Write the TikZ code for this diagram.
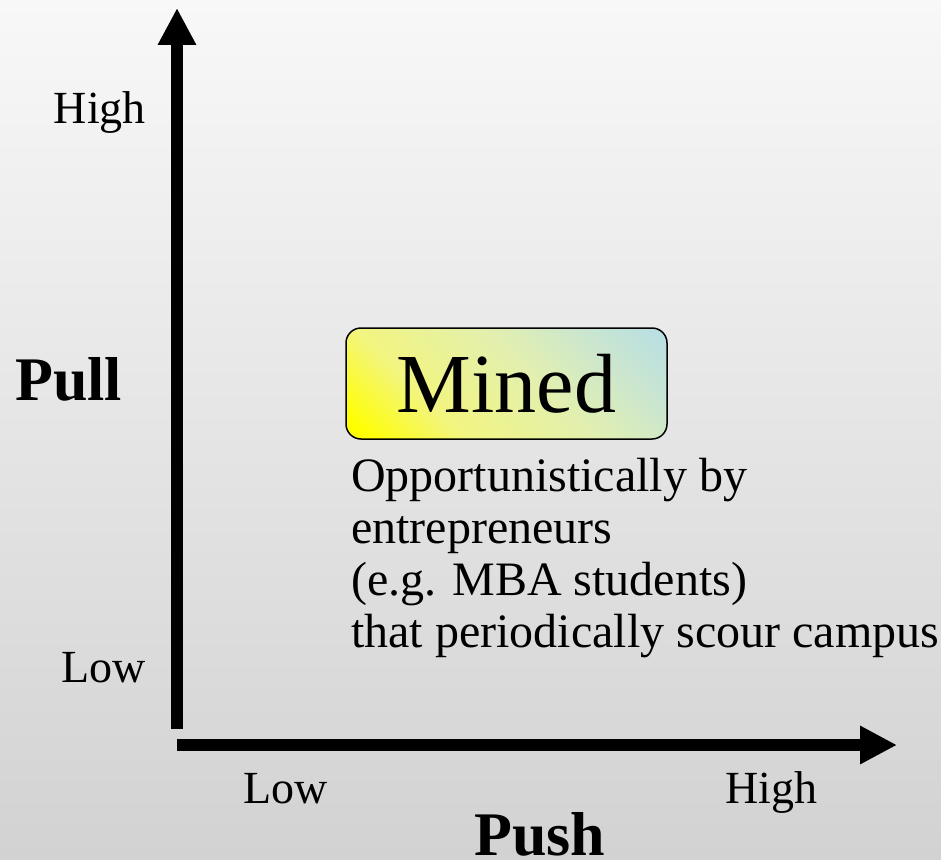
\documentclass[tikz,border=0pt]{standalone}
\usepackage{fontspec}
\setmainfont{Liberation Serif}
\usetikzlibrary{arrows.meta}
\definecolor{bgtop}{HTML}{F8F8F8}
\definecolor{bgbot}{HTML}{D2D2D2}
% diagonal fill of the quadrant box: yellow corner fading to pale cyan
\pgfdeclarehorizontalshading{boxfill}{100bp}{
  rgb(0bp)=(1,1,0);
  rgb(18bp)=(1,1,0);
  rgb(34bp)=(0.95,0.96,0.50);
  rgb(55bp)=(0.89,0.94,0.68);
  rgb(72bp)=(0.79,0.90,0.82);
  rgb(86bp)=(0.71,0.87,0.90);
  rgb(100bp)=(0.71,0.87,0.90)}
\tikzset{
  axis/.style={line width=12pt, -{Triangle[width=36pt,length=37pt]}},
  tick/.style={inner sep=0pt, font=\fontsize{46}{52}\selectfont},
  axistitle/.style={inner sep=0pt, font=\fontsize{62}{70}\selectfont\bfseries},
  quadbox/.style={draw=black, line width=1.5pt, rounded corners=15pt,
    minimum width=321pt, minimum height=111pt, inner sep=0pt,
    shading=boxfill, shading angle=45,
    font=\fontsize{84}{90}\selectfont},
  note/.style={inner sep=0pt, align=left, font=\fontsize{48}{52}\selectfont}
}
\begin{document}
\begin{tikzpicture}[x=1pt,y=-1pt]
  % backdrop
  \useasboundingbox (0,0) rectangle (941,859);
  \shade[top color=bgtop, bottom color=bgbot] (0,0) rectangle (941,859);

  % axes
  \coordinate (ybot) at (177,729);
  \coordinate (ytop) at (177,8);
  \coordinate (xleft) at (177,745);
  \coordinate (xright) at (897,745);
  \draw[axis] (ybot) -- (ytop);
  \draw[axis] (xleft) -- (xright);

  % axis labels
  \node[tick, anchor=base east] (yhigh) at (146,123) {High};
  \node[tick, anchor=base east] (ylow) at (146,682) {Low};
  \node[axistitle, anchor=base west] (pull) at (15,400) {Pull};
  \node[tick, anchor=base west] (xlow) at (243,803) {Low};
  \node[tick, anchor=base west] (xhigh) at (725,803) {High};
  \node[axistitle, anchor=base west] (push) at (474,855) {Push};

  % quadrant
  \node[quadbox] (mined) at (506.5,383.5) {Mined};
  \node[note, anchor=base west] (desc) at (351,647)
    {Opportunistically by\\entrepreneurs\\(e.g. MBA students)\\that periodically scour campus};
\end{tikzpicture}
\end{document}
